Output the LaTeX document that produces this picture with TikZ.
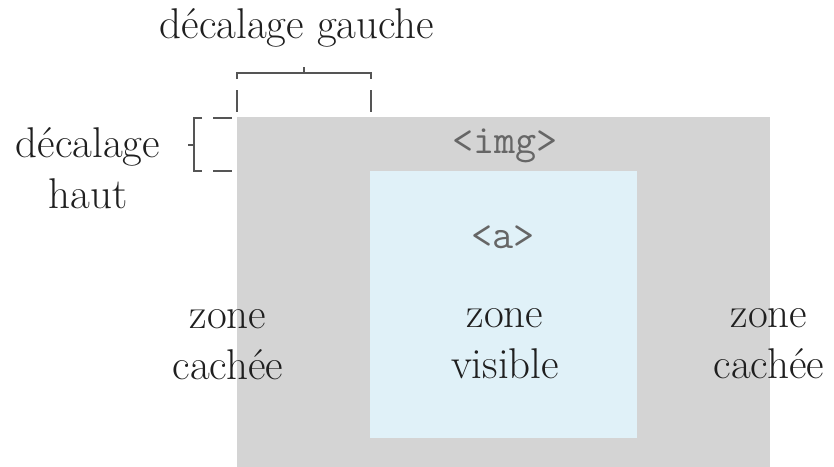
\documentclass[tikz,border=0pt]{standalone}
\usepackage{fontspec}
\usetikzlibrary{positioning}
\definecolor{zonegris}{RGB}{212,212,212}
\definecolor{zonebleu}{RGB}{224,241,248}
\definecolor{trait}{RGB}{85,85,85}

\begin{document}
\begin{tikzpicture}[x=1pt, y=-1pt, texte/.style={align=center, anchor=base, inner sep=0pt, text=black!88, font=\fontsize{43}{51}\selectfont}, code/.style={anchor=base, inner sep=0pt, text=black!60, font=\ttfamily\fontsize{41}{46}\selectfont}]
\tikzstyle{accolade}=[draw=trait, line width=1.6pt]
\useasboundingbox (0,0) rectangle (834,466);

% zones
\fill [zonegris] (237,117) rectangle (770,470);
\fill [zonebleu] (370,171) rectangle (637,438);
\coordinate (img) at (237,117);
\coordinate (a) at (370,171);

% decalage gauche
\draw [accolade] (237,79) -- (237,73) -- (371,73) -- (371,79);
\draw [accolade] (304,73) -- (304,67);
\draw [accolade] (img) ++(0,-27) -- ++(0,22);
\draw [accolade] (371,90) -- (371,112);

% decalage haut
\draw [accolade] (202,118) -- (194,118) -- (194,171) -- (202,171);
\draw [accolade] (194,145) -- (188,145);
\draw [accolade] (213,118) -- (232,118);
\draw [accolade] (213,171) -- (232,171);

% textes (base = derniere ligne)
\node (gauche) [texte] at (297,38) {décalage gauche};
\node (haut) [texte] at (88,208) {décalage\\haut};
\node (balimg) [code] at (505,153) {<img>};
\node (bala) [code] at (503,248) {<a>};
\node (cachee1) [texte] at (228,379) {zone\\cachée};
\node (visible) [texte] at (505,378) {zone\\visible};
\node (cachee2) [texte] at (769,378) {zone\\cachée};
\end{tikzpicture}
\end{document}
